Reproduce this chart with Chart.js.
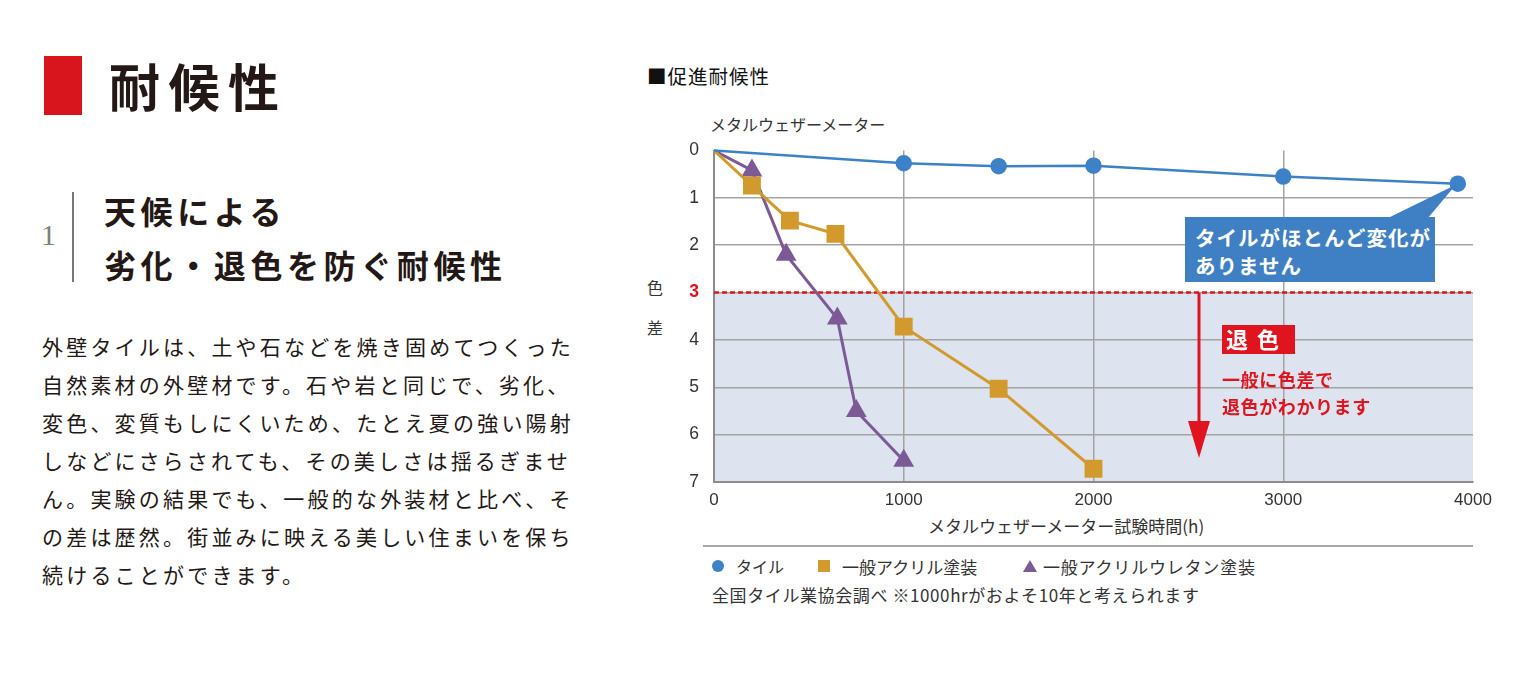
<!DOCTYPE html>
<html><head><meta charset="utf-8">
<script src="https://cdn.jsdelivr.net/npm/chart.js@4"></script>
<style>
html,body{margin:0;padding:0;background:#fff;}
body{width:1520px;height:686px;overflow:hidden;position:relative;font-family:"Noto Sans CJK JP","Noto Sans",sans-serif;color:#231815;}
.a{position:absolute;white-space:nowrap;line-height:1;}
#wrap{position:absolute;left:640px;top:125px;width:860px;height:387px;}
.p{position:absolute;left:42px;font-size:21px;letter-spacing:3.2px;white-space:nowrap;line-height:1;}
</style></head><body>

<!-- left side -->
<div class="a" style="left:44px;top:56px;width:38px;height:59px;background:#d8141d;"></div>
<div class="a" style="left:109px;top:60px;font-size:51px;font-weight:bold;letter-spacing:8.5px;color:#231815;">耐候性</div>
<div class="a" style="left:41px;top:220px;font-size:30px;font-family:'Liberation Serif',serif;color:#808080;">1</div>
<div class="a" style="left:72px;top:192px;width:2px;height:90px;background:#777;"></div>
<div class="a" style="left:104px;top:194px;font-size:32px;font-weight:bold;letter-spacing:4.6px;">天候による</div>
<div class="a" style="left:104px;top:248px;font-size:32px;font-weight:bold;letter-spacing:4.6px;">劣化・退色を防ぐ耐候性</div>
<div class="p" style="top:336px;">外壁タイルは、土や石などを焼き固めてつくった</div>
<div class="p" style="top:374px;">自然素材の外壁材です。石や岩と同じで、劣化、</div>
<div class="p" style="top:412px;">変色、変質もしにくいため、たとえ夏の強い陽射</div>
<div class="p" style="top:450px;">しなどにさらされても、その美しさは揺るぎませ</div>
<div class="p" style="top:488px;">ん。実験の結果でも、一般的な外装材と比べ、そ</div>
<div class="p" style="top:526px;">の差は歴然。街並みに映える美しい住まいを保ち</div>
<div class="p" style="top:564px;">続けることができます。</div>

<!-- chart texts -->
<div class="a" style="left:647px;top:66px;font-size:19.5px;letter-spacing:1px;color:#111;">■促進耐候性</div>
<div class="a" style="left:710px;top:116px;font-size:16px;color:#333;">メタルウェザーメーター</div>
<div class="a" style="left:647px;top:279px;font-size:16px;color:#333;">色</div>
<div class="a" style="left:647px;top:319px;font-size:16px;color:#333;">差</div>

<div id="wrap"><canvas id="c"></canvas></div>

<div class="a" style="left:928px;top:517px;font-size:17px;color:#333;">メタルウェザーメーター試験時間(h)</div>
<div class="a" style="left:703px;top:545px;width:770px;height:1.5px;background:#a8a8a8;"></div>
<div class="a" style="left:712px;top:560px;width:12px;height:12px;border-radius:50%;background:#3d82c8;"></div>
<div class="a" style="left:736px;top:558px;font-size:16px;color:#333;">タイル</div>
<div class="a" style="left:818px;top:560px;width:12px;height:12px;background:#d29a2d;"></div>
<div class="a" style="left:842px;top:558px;font-size:17px;color:#333;">一般アクリル塗装</div>
<div class="a" style="left:1023px;top:560px;width:0;height:0;border-left:7px solid transparent;border-right:7px solid transparent;border-bottom:12px solid #7c5a95;"></div>
<div class="a" style="left:1043px;top:558px;font-size:17px;letter-spacing:0.8px;color:#333;">一般アクリルウレタン塗装</div>
<div class="a" style="left:712px;top:586px;font-size:17px;letter-spacing:0.6px;color:#333;">全国タイル業協会調べ ※1000hrがおよそ10年と考えられます</div>

<!-- annotations -->
<div class="a" style="left:1185px;top:217px;width:250px;height:65px;background:#3f80c5;"></div>
<div class="a" style="left:1195px;top:223px;font-size:20.5px;font-weight:bold;letter-spacing:1px;color:#fff;line-height:28px;">タイルがほとんど変化が<br>ありません</div>
<div class="a" style="left:1222px;top:325px;width:73px;height:29px;background:#e0141e;"></div>
<div class="a" style="left:1226px;top:327px;font-size:22px;font-weight:bold;color:#fff;letter-spacing:2px;">退 色</div>
<div class="a" style="left:1222px;top:366px;font-size:18px;font-weight:bold;letter-spacing:0.6px;color:#e0141e;line-height:27px;">一般に色差で<br>退色がわかります</div>

<script>
// ---- data ----
const tileX   = [0, 1000, 1500, 2000, 3000, 3920];
const tileY   = [0, 0.27, 0.33, 0.32, 0.55, 0.70];
const acrylX  = [0, 200, 400, 640, 1000, 1500, 2000];
const acrylY  = [0, 0.74, 1.48, 1.76, 3.72, 5.03, 6.72];
const urethX  = [0, 200, 380, 650, 750, 1000];
const urethY  = [0, 0.42, 2.20, 3.55, 5.50, 6.55];
const seriesNames = ['タイル', '一般アクリル塗装', '一般アクリルウレタン塗装'];
const xTicks = [0, 1000, 2000, 3000, 4000];
const yTicks = [0, 1, 2, 3, 4, 5, 6, 7];
const limitValue = 3;

const pts = (xs, ys) => xs.map((x, i) => ({x, y: ys[i]}));
const numFont = "'Liberation Sans', Arial, sans-serif";
const OX = 640, OY = 125; // canvas offset on page

const deco = {
  id: 'deco',
  beforeDraw(chart) {
    const {ctx, chartArea: a, scales: {y}} = chart;
    const y3 = y.getPixelForValue(limitValue), y7 = y.getPixelForValue(7);
    ctx.save();
    ctx.fillStyle = '#dde4f0';
    ctx.fillRect(a.left, y3, a.right - a.left, y7 - y3);
    ctx.restore();
  },
  beforeDatasetsDraw(chart) {
    const {ctx, chartArea: a, scales: {y}} = chart;
    const y3 = y.getPixelForValue(limitValue);
    ctx.save();
    ctx.strokeStyle = '#e2141c';
    ctx.lineWidth = 2.5;
    ctx.setLineDash([5, 3]);
    ctx.beginPath(); ctx.moveTo(a.left, y3); ctx.lineTo(a.right, y3); ctx.stroke();
    ctx.setLineDash([]);
    // red arrow
    const ax = 1199 - OX;
    ctx.fillStyle = '#e0141e';
    ctx.fillRect(ax - 1.5, y3, 3, 421 - OY - y3 + 2);
    ctx.beginPath();
    ctx.moveTo(ax - 11, 421 - OY);
    ctx.lineTo(ax + 11, 421 - OY);
    ctx.lineTo(ax, 458 - OY);
    ctx.closePath(); ctx.fill();
    ctx.restore();
  },
  afterDatasetsDraw(chart) {
    const {ctx} = chart;
    const meta = chart.getDatasetMeta(0);
    const p = meta.data[meta.data.length - 1];
    ctx.save();
    ctx.fillStyle = '#3f80c5';
    ctx.beginPath();
    ctx.moveTo(1388 - OX, 218 - OY);
    ctx.lineTo(p.x - 2, p.y + 1);
    ctx.lineTo(1428 - OX, 218 - OY);
    ctx.closePath(); ctx.fill();
    ctx.restore();
  }
};

const radiusFn = r => ctx => ctx.dataIndex === 0 ? 0 : r;

new Chart(document.getElementById('c'), {
  type: 'line',
  data: {
    datasets: [
      {label: seriesNames[0], data: pts(tileX, tileY), borderColor: '#3d82c8', backgroundColor: '#3d82c8',
       borderWidth: 2.5, pointStyle: 'circle', pointRadius: radiusFn(7), pointHoverRadius: radiusFn(7), clip: false},
      {label: seriesNames[1], data: pts(acrylX, acrylY), borderColor: '#d29a2d', backgroundColor: '#d29a2d',
       borderWidth: 3, pointStyle: 'rect', pointRadius: radiusFn(10.5), pointHoverRadius: radiusFn(10.5), clip: false},
      {label: seriesNames[2], data: pts(urethX, urethY), borderColor: '#7c5a95', backgroundColor: '#7c5a95',
       borderWidth: 3, pointStyle: 'triangle', pointRadius: radiusFn(9), pointHoverRadius: radiusFn(9), clip: false}
    ]
  },
  options: {
    responsive: true, maintainAspectRatio: false, animation: false,
    layout: {padding: {top: 15, right: 27, left: 0, bottom: 0}},
    plugins: {legend: {display: false}, tooltip: {enabled: false}},
    elements: {line: {tension: 0}},
    scales: {
      x: {
        type: 'linear', min: xTicks[0], max: xTicks[xTicks.length - 1],
        afterBuildTicks: s => { s.ticks = xTicks.map(v => ({value: v})); },
        afterFit: s => { s.height = 30; },
        grid: {drawTicks: false, lineWidth: 1.5,
               color: c => (c.tick && (c.tick.value === 0 || c.tick.value === 4000)) ? 'rgba(0,0,0,0)' : '#a3a3a3'},
        border: {color: '#8c8c8c', width: 2},
        ticks: {padding: 8, color: '#333', font: {size: 17, family: numFont}, maxRotation: 0,
                callback: v => String(v)}
      },
      y: {
        type: 'linear', min: 0, max: 7, reverse: true,
        afterBuildTicks: s => { s.ticks = yTicks.map(v => ({value: v})); },
        afterFit: s => { s.width = 74; },
        grid: {drawTicks: false, lineWidth: 1.5,
               color: c => (c.tick && c.tick.value === 0) ? 'rgba(0,0,0,0)' : '#a3a3a3'},
        border: {color: '#8c8c8c', width: 2},
        ticks: {padding: 15, callback: v => String(v),
                color: c => c.tick.value === limitValue ? '#e0141e' : '#333',
                font: c => ({size: 17.5, family: numFont, weight: c.tick && c.tick.value === limitValue ? 'bold' : 'normal'})}
      }
    }
  },
  plugins: [deco]
});
</script>
</body></html>
